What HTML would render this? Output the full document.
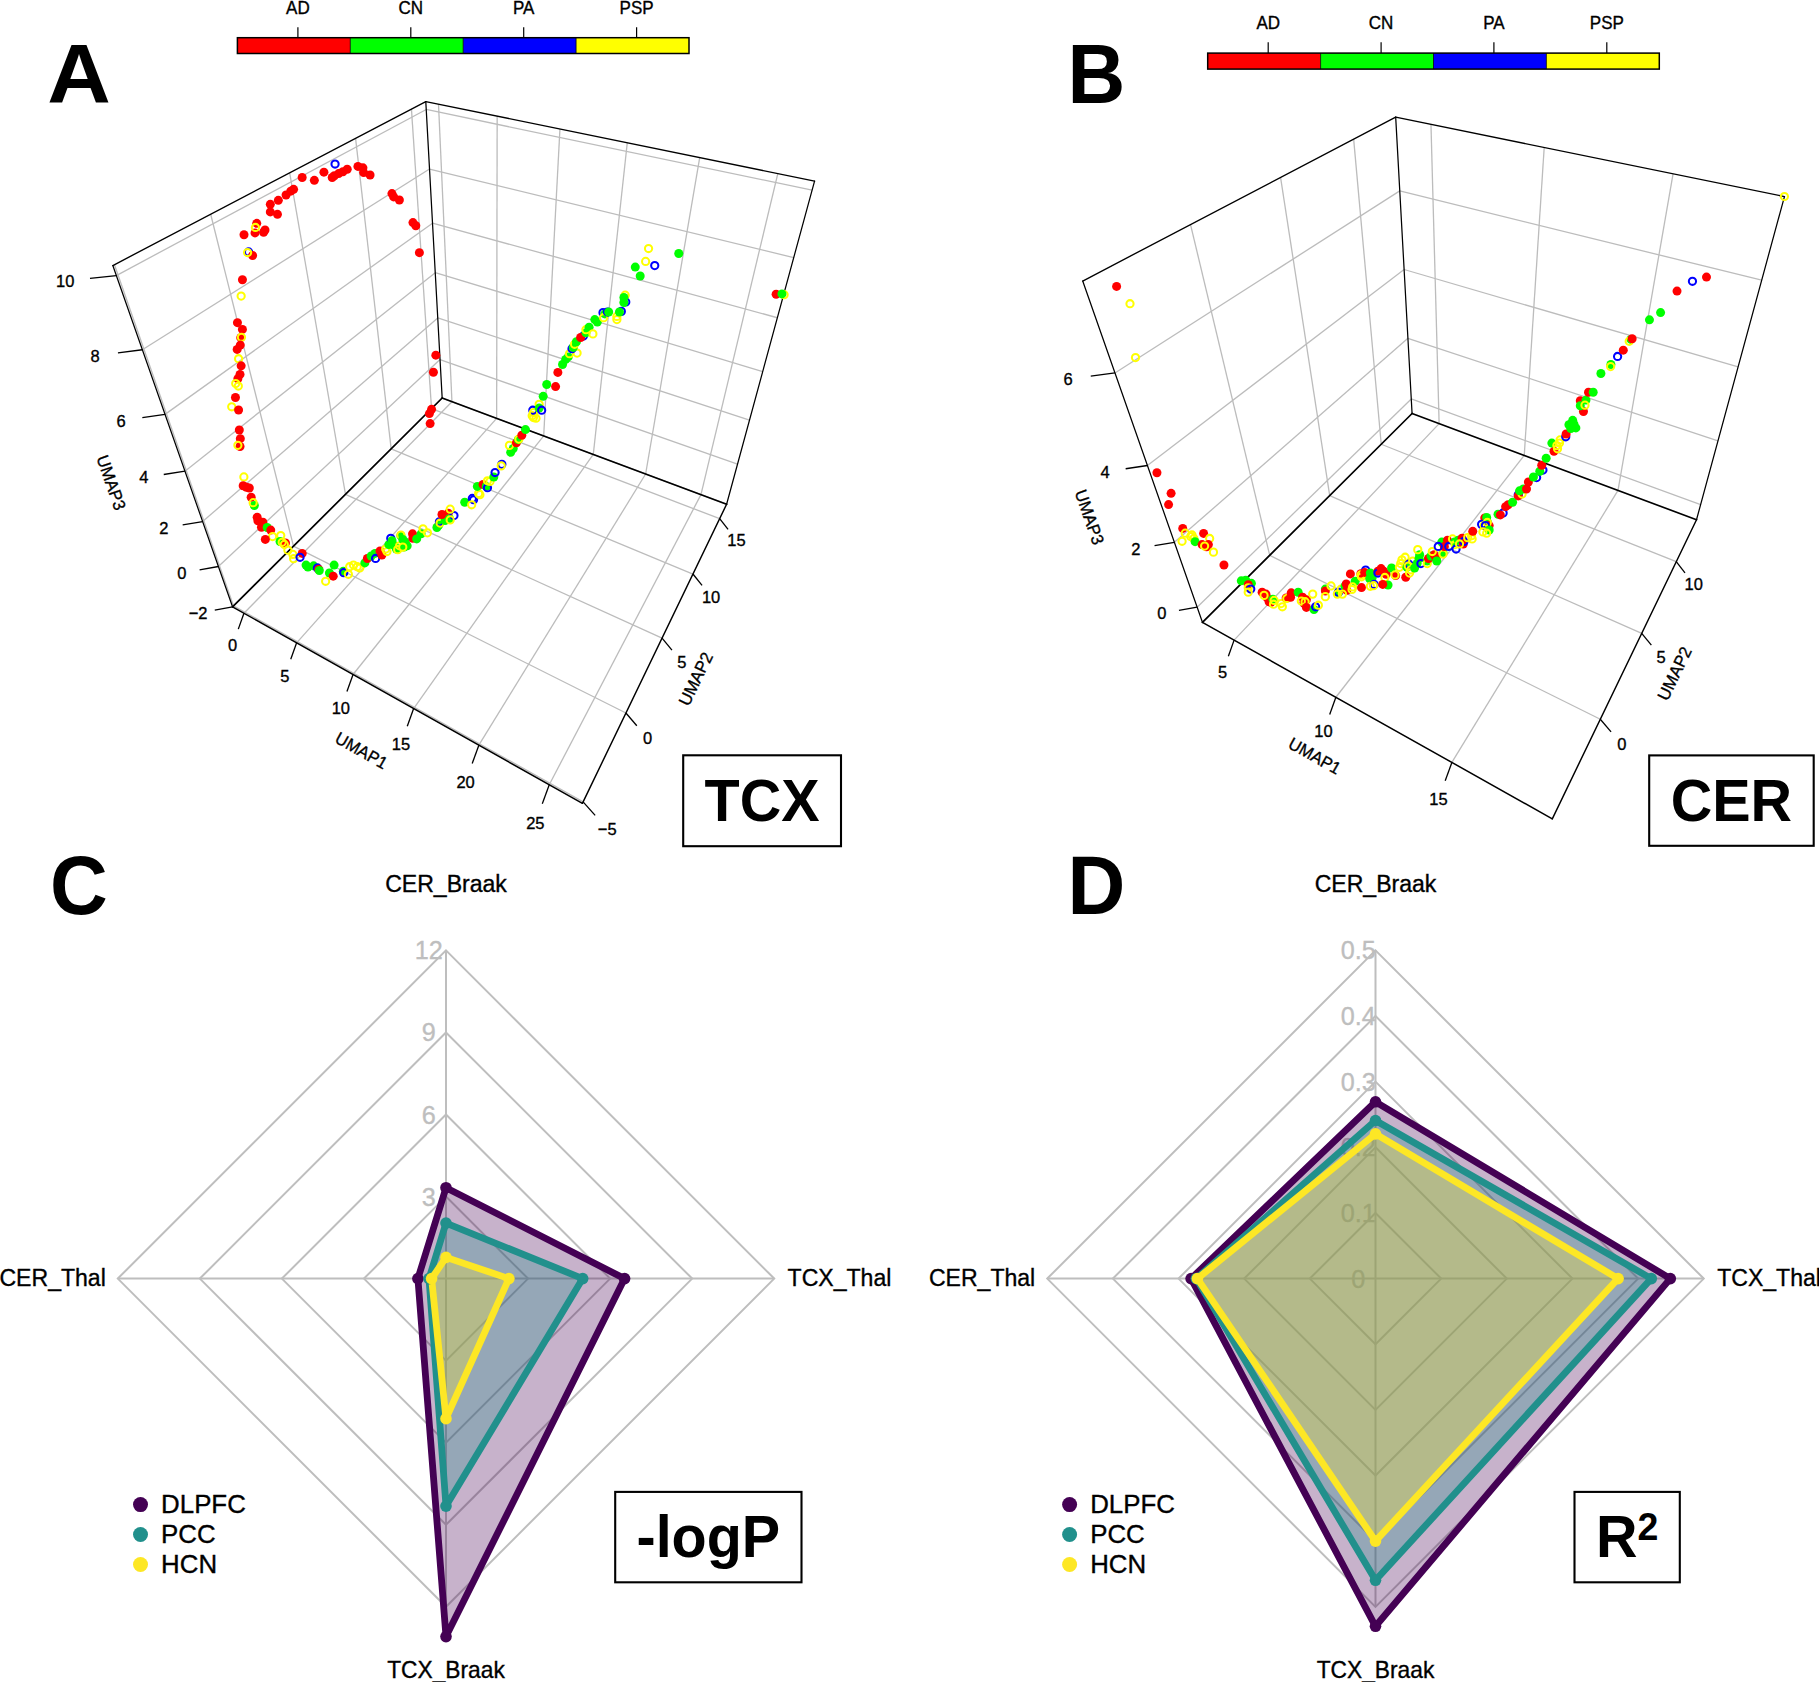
<!DOCTYPE html>
<html lang="en"><head><meta charset="utf-8"><title>Figure</title><style>html,body{margin:0;padding:0;background:#fff}svg{display:block}</style></head><body>
<svg width="1819" height="1682" viewBox="0 0 1819 1682" style="display:block">
<rect width="1819" height="1682" fill="#fff"/>
<g fill="none" stroke-linejoin="miter">
<polygon points="446,1196.55 528.05,1278.6 446,1360.65 363.95,1278.6" stroke="#bebebe" stroke-width="2"/>
<polygon points="446,1114.5 610.1,1278.6 446,1442.7 281.9,1278.6" stroke="#bebebe" stroke-width="2"/>
<polygon points="446,1032.45 692.15,1278.6 446,1524.75 199.85,1278.6" stroke="#bebebe" stroke-width="2"/>
<polygon points="446,950.4 774.2,1278.6 446,1606.8 117.8,1278.6" stroke="#bebebe" stroke-width="2"/>
<line x1="117.8" y1="1278.6" x2="774.2" y2="1278.6" stroke="#bebebe" stroke-width="2" />
<line x1="446" y1="950.4" x2="446" y2="1606.8" stroke="#bebebe" stroke-width="2" />
</g>
<text transform="translate(428.8 959.42) scale(0.9615 1)" font-size="26.21" text-anchor="middle" font-weight="normal" fill="#bebebe" stroke="#bebebe" stroke-width="0.35" font-family="Liberation Sans, Arial, Helvetica, sans-serif" >12</text>
<text transform="translate(428.8 1041.47) scale(0.9615 1)" font-size="26.21" text-anchor="middle" font-weight="normal" fill="#bebebe" stroke="#bebebe" stroke-width="0.35" font-family="Liberation Sans, Arial, Helvetica, sans-serif" >9</text>
<text transform="translate(428.8 1123.52) scale(0.9615 1)" font-size="26.21" text-anchor="middle" font-weight="normal" fill="#bebebe" stroke="#bebebe" stroke-width="0.35" font-family="Liberation Sans, Arial, Helvetica, sans-serif" >6</text>
<text transform="translate(428.8 1205.57) scale(0.9615 1)" font-size="26.21" text-anchor="middle" font-weight="normal" fill="#bebebe" stroke="#bebebe" stroke-width="0.35" font-family="Liberation Sans, Arial, Helvetica, sans-serif" >3</text>
<polygon points="446,1187.7 624.6,1278.6 446,1636.6 417.9,1278.6" fill="#440154" fill-opacity="0.3" stroke="none"/>
<polygon points="446,1223.1 582.7,1278.6 446,1506.1 429,1278.6" fill="#21908c" fill-opacity="0.3" stroke="none"/>
<polygon points="446,1257.4 508.9,1278.6 446,1418.7 431.6,1278.6" fill="#fde725" fill-opacity="0.3" stroke="none"/>
<polygon points="446,1187.7 624.6,1278.6 446,1636.6 417.9,1278.6" fill="none" stroke="#440154" stroke-width="6.8" stroke-linejoin="round"/>
<polygon points="446,1223.1 582.7,1278.6 446,1506.1 429,1278.6" fill="none" stroke="#21908c" stroke-width="6.8" stroke-linejoin="round"/>
<polygon points="446,1257.4 508.9,1278.6 446,1418.7 431.6,1278.6" fill="none" stroke="#fde725" stroke-width="6.8" stroke-linejoin="round"/>
<circle cx="446" cy="1187.7" r="5.8" fill="#440154"/>
<circle cx="624.6" cy="1278.6" r="5.8" fill="#440154"/>
<circle cx="446" cy="1636.6" r="5.8" fill="#440154"/>
<circle cx="417.9" cy="1278.6" r="5.8" fill="#440154"/>
<circle cx="446" cy="1223.1" r="5.8" fill="#21908c"/>
<circle cx="582.7" cy="1278.6" r="5.8" fill="#21908c"/>
<circle cx="446" cy="1506.1" r="5.8" fill="#21908c"/>
<circle cx="429" cy="1278.6" r="5.8" fill="#21908c"/>
<circle cx="446" cy="1257.4" r="5.8" fill="#fde725"/>
<circle cx="508.9" cy="1278.6" r="5.8" fill="#fde725"/>
<circle cx="446" cy="1418.7" r="5.8" fill="#fde725"/>
<circle cx="431.6" cy="1278.6" r="5.8" fill="#fde725"/>
<text transform="translate(446 891.8) scale(0.9856 1)" font-size="23.4" text-anchor="middle" font-weight="normal" fill="#000" stroke="#000" stroke-width="0.35" font-family="Liberation Sans, Arial, Helvetica, sans-serif" >CER_Braak</text>
<text transform="translate(446 1678.3) scale(0.9731 1)" font-size="23.4" text-anchor="middle" font-weight="normal" fill="#000" stroke="#000" stroke-width="0.35" font-family="Liberation Sans, Arial, Helvetica, sans-serif" >TCX_Braak</text>
<text transform="translate(105.8 1286.2) scale(0.9856 1)" font-size="23.4" text-anchor="end" font-weight="normal" fill="#000" stroke="#000" stroke-width="0.35" font-family="Liberation Sans, Arial, Helvetica, sans-serif" >CER_Thal</text>
<text transform="translate(787.6 1286.2) scale(0.9856 1)" font-size="23.4" text-anchor="start" font-weight="normal" fill="#000" stroke="#000" stroke-width="0.35" font-family="Liberation Sans, Arial, Helvetica, sans-serif" >TCX_Thal</text>
<circle cx="140.5" cy="1504.6" r="7.5" fill="#440154"/>
<text transform="translate(161.1 1513.4) scale(1.0144 1)" font-size="25.48" text-anchor="start" font-weight="normal" fill="#000" stroke="#000" stroke-width="0.35" font-family="Liberation Sans, Arial, Helvetica, sans-serif" >DLPFC</text>
<circle cx="140.5" cy="1534.55" r="7.5" fill="#21908c"/>
<text transform="translate(161.1 1543.35) scale(1.0144 1)" font-size="25.48" text-anchor="start" font-weight="normal" fill="#000" stroke="#000" stroke-width="0.35" font-family="Liberation Sans, Arial, Helvetica, sans-serif" >PCC</text>
<circle cx="140.5" cy="1564.5" r="7.5" fill="#fde725"/>
<text transform="translate(161.1 1573.3) scale(1.0144 1)" font-size="25.48" text-anchor="start" font-weight="normal" fill="#000" stroke="#000" stroke-width="0.35" font-family="Liberation Sans, Arial, Helvetica, sans-serif" >HCN</text>
<g fill="none" stroke-linejoin="miter">
<polygon points="1375.5,1212.95 1441.15,1278.6 1375.5,1344.25 1309.85,1278.6" stroke="#bebebe" stroke-width="2"/>
<polygon points="1375.5,1147.3 1506.8,1278.6 1375.5,1409.9 1244.2,1278.6" stroke="#bebebe" stroke-width="2"/>
<polygon points="1375.5,1081.65 1572.45,1278.6 1375.5,1475.55 1178.55,1278.6" stroke="#bebebe" stroke-width="2"/>
<polygon points="1375.5,1016 1638.1,1278.6 1375.5,1541.2 1112.9,1278.6" stroke="#bebebe" stroke-width="2"/>
<polygon points="1375.5,950.35 1703.75,1278.6 1375.5,1606.85 1047.25,1278.6" stroke="#bebebe" stroke-width="2"/>
<line x1="1047.25" y1="1278.6" x2="1703.75" y2="1278.6" stroke="#bebebe" stroke-width="2" />
<line x1="1375.5" y1="950.35" x2="1375.5" y2="1606.85" stroke="#bebebe" stroke-width="2" />
</g>
<text transform="translate(1358.3 959.37) scale(0.9615 1)" font-size="26.21" text-anchor="middle" font-weight="normal" fill="#bebebe" stroke="#bebebe" stroke-width="0.35" font-family="Liberation Sans, Arial, Helvetica, sans-serif" >0.5</text>
<text transform="translate(1358.3 1025.02) scale(0.9615 1)" font-size="26.21" text-anchor="middle" font-weight="normal" fill="#bebebe" stroke="#bebebe" stroke-width="0.35" font-family="Liberation Sans, Arial, Helvetica, sans-serif" >0.4</text>
<text transform="translate(1358.3 1090.67) scale(0.9615 1)" font-size="26.21" text-anchor="middle" font-weight="normal" fill="#bebebe" stroke="#bebebe" stroke-width="0.35" font-family="Liberation Sans, Arial, Helvetica, sans-serif" >0.3</text>
<text transform="translate(1358.3 1156.32) scale(0.9615 1)" font-size="26.21" text-anchor="middle" font-weight="normal" fill="#bebebe" stroke="#bebebe" stroke-width="0.35" font-family="Liberation Sans, Arial, Helvetica, sans-serif" >0.2</text>
<text transform="translate(1358.3 1221.97) scale(0.9615 1)" font-size="26.21" text-anchor="middle" font-weight="normal" fill="#bebebe" stroke="#bebebe" stroke-width="0.35" font-family="Liberation Sans, Arial, Helvetica, sans-serif" >0.1</text>
<text transform="translate(1358.3 1287.62) scale(0.9615 1)" font-size="26.21" text-anchor="middle" font-weight="normal" fill="#bebebe" stroke="#bebebe" stroke-width="0.35" font-family="Liberation Sans, Arial, Helvetica, sans-serif" >0</text>
<polygon points="1375.5,1101.8 1670.3,1278.6 1375.5,1626.3 1191.1,1278.6" fill="#440154" fill-opacity="0.3" stroke="none"/>
<polygon points="1375.5,1120.5 1651.3,1278.6 1375.5,1580.3 1196.3,1278.6" fill="#21908c" fill-opacity="0.3" stroke="none"/>
<polygon points="1375.5,1133.9 1618.1,1278.6 1375.5,1541.1 1197.4,1278.6" fill="#fde725" fill-opacity="0.3" stroke="none"/>
<polygon points="1375.5,1101.8 1670.3,1278.6 1375.5,1626.3 1191.1,1278.6" fill="none" stroke="#440154" stroke-width="6.8" stroke-linejoin="round"/>
<polygon points="1375.5,1120.5 1651.3,1278.6 1375.5,1580.3 1196.3,1278.6" fill="none" stroke="#21908c" stroke-width="6.8" stroke-linejoin="round"/>
<polygon points="1375.5,1133.9 1618.1,1278.6 1375.5,1541.1 1197.4,1278.6" fill="none" stroke="#fde725" stroke-width="6.8" stroke-linejoin="round"/>
<circle cx="1375.5" cy="1101.8" r="5.8" fill="#440154"/>
<circle cx="1670.3" cy="1278.6" r="5.8" fill="#440154"/>
<circle cx="1375.5" cy="1626.3" r="5.8" fill="#440154"/>
<circle cx="1191.1" cy="1278.6" r="5.8" fill="#440154"/>
<circle cx="1375.5" cy="1120.5" r="5.8" fill="#21908c"/>
<circle cx="1651.3" cy="1278.6" r="5.8" fill="#21908c"/>
<circle cx="1375.5" cy="1580.3" r="5.8" fill="#21908c"/>
<circle cx="1196.3" cy="1278.6" r="5.8" fill="#21908c"/>
<circle cx="1375.5" cy="1133.9" r="5.8" fill="#fde725"/>
<circle cx="1618.1" cy="1278.6" r="5.8" fill="#fde725"/>
<circle cx="1375.5" cy="1541.1" r="5.8" fill="#fde725"/>
<circle cx="1197.4" cy="1278.6" r="5.8" fill="#fde725"/>
<text transform="translate(1375.5 891.8) scale(0.9856 1)" font-size="23.4" text-anchor="middle" font-weight="normal" fill="#000" stroke="#000" stroke-width="0.35" font-family="Liberation Sans, Arial, Helvetica, sans-serif" >CER_Braak</text>
<text transform="translate(1375.5 1678.3) scale(0.9731 1)" font-size="23.4" text-anchor="middle" font-weight="normal" fill="#000" stroke="#000" stroke-width="0.35" font-family="Liberation Sans, Arial, Helvetica, sans-serif" >TCX_Braak</text>
<text transform="translate(1035.25 1286.2) scale(0.9856 1)" font-size="23.4" text-anchor="end" font-weight="normal" fill="#000" stroke="#000" stroke-width="0.35" font-family="Liberation Sans, Arial, Helvetica, sans-serif" >CER_Thal</text>
<text transform="translate(1717.15 1286.2) scale(0.9856 1)" font-size="23.4" text-anchor="start" font-weight="normal" fill="#000" stroke="#000" stroke-width="0.35" font-family="Liberation Sans, Arial, Helvetica, sans-serif" >TCX_Thal</text>
<circle cx="1069.6" cy="1504.6" r="7.5" fill="#440154"/>
<text transform="translate(1090.2 1513.4) scale(1.0144 1)" font-size="25.48" text-anchor="start" font-weight="normal" fill="#000" stroke="#000" stroke-width="0.35" font-family="Liberation Sans, Arial, Helvetica, sans-serif" >DLPFC</text>
<circle cx="1069.6" cy="1534.55" r="7.5" fill="#21908c"/>
<text transform="translate(1090.2 1543.35) scale(1.0144 1)" font-size="25.48" text-anchor="start" font-weight="normal" fill="#000" stroke="#000" stroke-width="0.35" font-family="Liberation Sans, Arial, Helvetica, sans-serif" >PCC</text>
<circle cx="1069.6" cy="1564.5" r="7.5" fill="#fde725"/>
<text transform="translate(1090.2 1573.3) scale(1.0144 1)" font-size="25.48" text-anchor="start" font-weight="normal" fill="#000" stroke="#000" stroke-width="0.35" font-family="Liberation Sans, Arial, Helvetica, sans-serif" >HCN</text>
<g stroke-linecap="butt" fill="none">
<line x1="451.95" y1="401.67" x2="438.5" y2="104.2" stroke="#bcbcbc" stroke-width="1.3" />
<line x1="243.95" y1="613.23" x2="451.95" y2="401.67" stroke="#bcbcbc" stroke-width="1.3" />
<line x1="496.64" y1="418.36" x2="497.16" y2="116.19" stroke="#bcbcbc" stroke-width="1.3" />
<line x1="296.63" y1="642.82" x2="496.64" y2="418.36" stroke="#bcbcbc" stroke-width="1.3" />
<line x1="543.69" y1="435.93" x2="559.94" y2="129.02" stroke="#bcbcbc" stroke-width="1.3" />
<line x1="353.06" y1="674.52" x2="543.69" y2="435.93" stroke="#bcbcbc" stroke-width="1.3" />
<line x1="593.28" y1="454.45" x2="627.28" y2="142.78" stroke="#bcbcbc" stroke-width="1.3" />
<line x1="413.64" y1="708.54" x2="593.28" y2="454.45" stroke="#bcbcbc" stroke-width="1.3" />
<line x1="645.63" y1="473.99" x2="699.71" y2="157.59" stroke="#bcbcbc" stroke-width="1.3" />
<line x1="478.85" y1="745.17" x2="645.63" y2="473.99" stroke="#bcbcbc" stroke-width="1.3" />
<line x1="700.96" y1="494.65" x2="777.81" y2="173.55" stroke="#bcbcbc" stroke-width="1.3" />
<line x1="549.25" y1="784.71" x2="700.96" y2="494.65" stroke="#bcbcbc" stroke-width="1.3" />
<line x1="233.51" y1="605.86" x2="114.43" y2="264.68" stroke="#bcbcbc" stroke-width="1.3" />
<line x1="233.51" y1="605.86" x2="583.1" y2="801.87" stroke="#bcbcbc" stroke-width="1.3" />
<line x1="293.43" y1="546.17" x2="210.71" y2="214.25" stroke="#bcbcbc" stroke-width="1.3" />
<line x1="293.43" y1="546.17" x2="625.93" y2="713.04" stroke="#bcbcbc" stroke-width="1.3" />
<line x1="345.5" y1="494.31" x2="289.67" y2="172.9" stroke="#bcbcbc" stroke-width="1.3" />
<line x1="345.5" y1="494.31" x2="662.06" y2="638.1" stroke="#bcbcbc" stroke-width="1.3" />
<line x1="391.16" y1="448.83" x2="355.58" y2="138.37" stroke="#bcbcbc" stroke-width="1.3" />
<line x1="391.16" y1="448.83" x2="692.95" y2="574.03" stroke="#bcbcbc" stroke-width="1.3" />
<line x1="431.53" y1="408.61" x2="411.44" y2="109.12" stroke="#bcbcbc" stroke-width="1.3" />
<line x1="431.53" y1="408.61" x2="719.66" y2="518.63" stroke="#bcbcbc" stroke-width="1.3" />
<line x1="232.54" y1="606.82" x2="442.17" y2="398.02" stroke="#bcbcbc" stroke-width="1.3" />
<line x1="442.17" y1="398.02" x2="726.61" y2="504.23" stroke="#bcbcbc" stroke-width="1.3" />
<line x1="218.39" y1="566.49" x2="440.04" y2="359.59" stroke="#bcbcbc" stroke-width="1.3" />
<line x1="440.04" y1="359.59" x2="737.5" y2="464.19" stroke="#bcbcbc" stroke-width="1.3" />
<line x1="202.63" y1="521.57" x2="437.74" y2="317.94" stroke="#bcbcbc" stroke-width="1.3" />
<line x1="437.74" y1="317.94" x2="749.47" y2="420.2" stroke="#bcbcbc" stroke-width="1.3" />
<line x1="184.97" y1="471.22" x2="435.24" y2="272.65" stroke="#bcbcbc" stroke-width="1.3" />
<line x1="435.24" y1="272.65" x2="762.69" y2="371.64" stroke="#bcbcbc" stroke-width="1.3" />
<line x1="165.04" y1="414.39" x2="432.51" y2="223.22" stroke="#bcbcbc" stroke-width="1.3" />
<line x1="432.51" y1="223.22" x2="777.36" y2="317.75" stroke="#bcbcbc" stroke-width="1.3" />
<line x1="142.36" y1="349.75" x2="429.52" y2="169.07" stroke="#bcbcbc" stroke-width="1.3" />
<line x1="429.52" y1="169.07" x2="793.72" y2="257.62" stroke="#bcbcbc" stroke-width="1.3" />
<line x1="116.34" y1="275.58" x2="426.23" y2="109.47" stroke="#bcbcbc" stroke-width="1.3" />
<line x1="426.23" y1="109.47" x2="812.1" y2="190.09" stroke="#bcbcbc" stroke-width="1.3" />
<line x1="112.82" y1="265.53" x2="425.79" y2="101.6" stroke="#000" stroke-width="1.35" stroke-linecap="round"/>
<line x1="425.79" y1="101.6" x2="814.56" y2="181.06" stroke="#000" stroke-width="1.35" stroke-linecap="round"/>
<line x1="232.54" y1="606.82" x2="112.82" y2="265.53" stroke="#000" stroke-width="1.25" stroke-linecap="round"/>
<line x1="442.17" y1="398.02" x2="425.79" y2="101.6" stroke="#000" stroke-width="1.25" stroke-linecap="round"/>
<line x1="726.61" y1="504.23" x2="814.56" y2="181.06" stroke="#000" stroke-width="1.25" stroke-linecap="round"/>
<line x1="232.54" y1="606.82" x2="442.17" y2="398.02" stroke="#000" stroke-width="1.7" stroke-linecap="round"/>
<line x1="442.17" y1="398.02" x2="726.61" y2="504.23" stroke="#000" stroke-width="1.65" stroke-linecap="round"/>
<line x1="232.54" y1="606.82" x2="582.4" y2="803.33" stroke="#000" stroke-width="1.5" stroke-linecap="round"/>
<line x1="582.4" y1="803.33" x2="726.61" y2="504.23" stroke="#000" stroke-width="1.45" stroke-linecap="round"/>
<line x1="232.54" y1="606.82" x2="214.76" y2="610.12" stroke="#000" stroke-width="1.3" />
<text transform="translate(198.04 619.13) scale(0.9615 1)" font-size="17.16" text-anchor="middle" font-weight="normal" fill="#000" stroke="#000" stroke-width="0.35" font-family="Liberation Sans, Arial, Helvetica, sans-serif" >−2</text>
<line x1="218.39" y1="566.49" x2="199.59" y2="569.8" stroke="#000" stroke-width="1.3" />
<text transform="translate(181.91 578.82) scale(0.9615 1)" font-size="17.16" text-anchor="middle" font-weight="normal" fill="#000" stroke="#000" stroke-width="0.35" font-family="Liberation Sans, Arial, Helvetica, sans-serif" >0</text>
<line x1="202.63" y1="521.57" x2="182.68" y2="524.87" stroke="#000" stroke-width="1.3" />
<text transform="translate(163.93 533.89) scale(0.9615 1)" font-size="17.16" text-anchor="middle" font-weight="normal" fill="#000" stroke="#000" stroke-width="0.35" font-family="Liberation Sans, Arial, Helvetica, sans-serif" >2</text>
<line x1="184.97" y1="471.22" x2="163.73" y2="474.49" stroke="#000" stroke-width="1.3" />
<text transform="translate(143.76 483.47) scale(0.9615 1)" font-size="17.16" text-anchor="middle" font-weight="normal" fill="#000" stroke="#000" stroke-width="0.35" font-family="Liberation Sans, Arial, Helvetica, sans-serif" >4</text>
<line x1="165.04" y1="414.39" x2="142.32" y2="417.59" stroke="#000" stroke-width="1.3" />
<text transform="translate(120.97 426.51) scale(0.9615 1)" font-size="17.16" text-anchor="middle" font-weight="normal" fill="#000" stroke="#000" stroke-width="0.35" font-family="Liberation Sans, Arial, Helvetica, sans-serif" >6</text>
<line x1="142.36" y1="349.75" x2="117.96" y2="352.84" stroke="#000" stroke-width="1.3" />
<text transform="translate(95.02 361.65) scale(0.9615 1)" font-size="17.16" text-anchor="middle" font-weight="normal" fill="#000" stroke="#000" stroke-width="0.35" font-family="Liberation Sans, Arial, Helvetica, sans-serif" >8</text>
<line x1="116.34" y1="275.58" x2="89.98" y2="278.47" stroke="#000" stroke-width="1.3" />
<text transform="translate(65.21 287.1) scale(0.9615 1)" font-size="17.16" text-anchor="middle" font-weight="normal" fill="#000" stroke="#000" stroke-width="0.35" font-family="Liberation Sans, Arial, Helvetica, sans-serif" >10</text>
<line x1="243.95" y1="613.23" x2="238.29" y2="629.15" stroke="#000" stroke-width="1.3" />
<text transform="translate(232.62 650.98) scale(0.9615 1)" font-size="17.16" text-anchor="middle" font-weight="normal" fill="#000" stroke="#000" stroke-width="0.35" font-family="Liberation Sans, Arial, Helvetica, sans-serif" >0</text>
<line x1="296.63" y1="642.82" x2="290.75" y2="659.28" stroke="#000" stroke-width="1.3" />
<text transform="translate(284.87 681.64) scale(0.9615 1)" font-size="17.16" text-anchor="middle" font-weight="normal" fill="#000" stroke="#000" stroke-width="0.35" font-family="Liberation Sans, Arial, Helvetica, sans-serif" >5</text>
<line x1="353.06" y1="674.52" x2="346.94" y2="691.54" stroke="#000" stroke-width="1.3" />
<text transform="translate(340.82 714.47) scale(0.9615 1)" font-size="17.16" text-anchor="middle" font-weight="normal" fill="#000" stroke="#000" stroke-width="0.35" font-family="Liberation Sans, Arial, Helvetica, sans-serif" >10</text>
<line x1="413.64" y1="708.54" x2="407.27" y2="726.18" stroke="#000" stroke-width="1.3" />
<text transform="translate(400.89 749.72) scale(0.9615 1)" font-size="17.16" text-anchor="middle" font-weight="normal" fill="#000" stroke="#000" stroke-width="0.35" font-family="Liberation Sans, Arial, Helvetica, sans-serif" >15</text>
<line x1="478.85" y1="745.17" x2="472.2" y2="763.46" stroke="#000" stroke-width="1.3" />
<text transform="translate(465.55 787.65) scale(0.9615 1)" font-size="17.16" text-anchor="middle" font-weight="normal" fill="#000" stroke="#000" stroke-width="0.35" font-family="Liberation Sans, Arial, Helvetica, sans-serif" >20</text>
<line x1="549.25" y1="784.71" x2="542.3" y2="803.71" stroke="#000" stroke-width="1.3" />
<text transform="translate(535.35 828.61) scale(0.9615 1)" font-size="17.16" text-anchor="middle" font-weight="normal" fill="#000" stroke="#000" stroke-width="0.35" font-family="Liberation Sans, Arial, Helvetica, sans-serif" >25</text>
<line x1="583.1" y1="801.87" x2="595.16" y2="815.39" stroke="#000" stroke-width="1.3" />
<text transform="translate(607.23 834.83) scale(0.9615 1)" font-size="17.16" text-anchor="middle" font-weight="normal" fill="#000" stroke="#000" stroke-width="0.35" font-family="Liberation Sans, Arial, Helvetica, sans-serif" >−5</text>
<line x1="625.93" y1="713.04" x2="636.81" y2="725.77" stroke="#000" stroke-width="1.3" />
<text transform="translate(647.68 744.4) scale(0.9615 1)" font-size="17.16" text-anchor="middle" font-weight="normal" fill="#000" stroke="#000" stroke-width="0.35" font-family="Liberation Sans, Arial, Helvetica, sans-serif" >0</text>
<line x1="662.06" y1="638.1" x2="671.96" y2="650.11" stroke="#000" stroke-width="1.3" />
<text transform="translate(681.86 668.02) scale(0.9615 1)" font-size="17.16" text-anchor="middle" font-weight="normal" fill="#000" stroke="#000" stroke-width="0.35" font-family="Liberation Sans, Arial, Helvetica, sans-serif" >5</text>
<line x1="692.95" y1="574.03" x2="702.03" y2="585.39" stroke="#000" stroke-width="1.3" />
<text transform="translate(711.11 602.65) scale(0.9615 1)" font-size="17.16" text-anchor="middle" font-weight="normal" fill="#000" stroke="#000" stroke-width="0.35" font-family="Liberation Sans, Arial, Helvetica, sans-serif" >10</text>
<line x1="719.66" y1="518.63" x2="728.05" y2="529.39" stroke="#000" stroke-width="1.3" />
<text transform="translate(736.43 546.06) scale(0.9615 1)" font-size="17.16" text-anchor="middle" font-weight="normal" fill="#000" stroke="#000" stroke-width="0.35" font-family="Liberation Sans, Arial, Helvetica, sans-serif" >15</text>
</g>
<text transform="translate(105.71 484.52) rotate(70.7) scale(0.9615 1)" font-size="17.16" text-anchor="middle" font-weight="normal" fill="#000" stroke="#000" stroke-width="0.35" font-family="Liberation Sans, Arial, Helvetica, sans-serif" >UMAP3</text>
<text transform="translate(358.52 755.72) rotate(29.3) scale(0.9615 1)" font-size="17.16" text-anchor="middle" font-weight="normal" fill="#000" stroke="#000" stroke-width="0.35" font-family="Liberation Sans, Arial, Helvetica, sans-serif" >UMAP1</text>
<text transform="translate(701.04 681.49) rotate(-64.3) scale(0.9615 1)" font-size="17.16" text-anchor="middle" font-weight="normal" fill="#000" stroke="#000" stroke-width="0.35" font-family="Liberation Sans, Arial, Helvetica, sans-serif" >UMAP2</text>
<g stroke-linecap="butt" fill="none">
<line x1="1439.12" y1="423.62" x2="1430.96" y2="124.31" stroke="#bcbcbc" stroke-width="1.3" />
<line x1="1234.1" y1="640.11" x2="1439.12" y2="423.62" stroke="#bcbcbc" stroke-width="1.3" />
<line x1="1524.24" y1="455.41" x2="1544.19" y2="147.45" stroke="#bcbcbc" stroke-width="1.3" />
<line x1="1335.87" y1="697.27" x2="1524.24" y2="455.41" stroke="#bcbcbc" stroke-width="1.3" />
<line x1="1618" y1="490.42" x2="1673.06" y2="173.79" stroke="#bcbcbc" stroke-width="1.3" />
<line x1="1451.87" y1="762.42" x2="1618" y2="490.42" stroke="#bcbcbc" stroke-width="1.3" />
<line x1="1269.72" y1="555.3" x2="1190.53" y2="224.56" stroke="#bcbcbc" stroke-width="1.3" />
<line x1="1269.72" y1="555.3" x2="1600.32" y2="719.23" stroke="#bcbcbc" stroke-width="1.3" />
<line x1="1329.72" y1="495.55" x2="1280.56" y2="177.4" stroke="#bcbcbc" stroke-width="1.3" />
<line x1="1329.72" y1="495.55" x2="1641.73" y2="633.35" stroke="#bcbcbc" stroke-width="1.3" />
<line x1="1381.23" y1="444.24" x2="1353.65" y2="139.12" stroke="#bcbcbc" stroke-width="1.3" />
<line x1="1381.23" y1="444.24" x2="1676.26" y2="561.72" stroke="#bcbcbc" stroke-width="1.3" />
<line x1="1197.12" y1="607.16" x2="1411.26" y2="398.95" stroke="#bcbcbc" stroke-width="1.3" />
<line x1="1411.26" y1="398.95" x2="1700.62" y2="504.62" stroke="#bcbcbc" stroke-width="1.3" />
<line x1="1174.39" y1="542.35" x2="1407.91" y2="338.27" stroke="#bcbcbc" stroke-width="1.3" />
<line x1="1407.91" y1="338.27" x2="1717.98" y2="440.84" stroke="#bcbcbc" stroke-width="1.3" />
<line x1="1147.43" y1="465.51" x2="1404.11" y2="269.5" stroke="#bcbcbc" stroke-width="1.3" />
<line x1="1404.11" y1="269.5" x2="1738.09" y2="366.92" stroke="#bcbcbc" stroke-width="1.3" />
<line x1="1114.96" y1="372.95" x2="1399.77" y2="190.91" stroke="#bcbcbc" stroke-width="1.3" />
<line x1="1399.77" y1="190.91" x2="1761.69" y2="280.23" stroke="#bcbcbc" stroke-width="1.3" />
<line x1="1082.72" y1="281.03" x2="1395.69" y2="117.1" stroke="#000" stroke-width="1.35" stroke-linecap="round"/>
<line x1="1395.69" y1="117.1" x2="1784.46" y2="196.56" stroke="#000" stroke-width="1.35" stroke-linecap="round"/>
<line x1="1202.44" y1="622.32" x2="1082.72" y2="281.03" stroke="#000" stroke-width="1.25" stroke-linecap="round"/>
<line x1="1412.07" y1="413.52" x2="1395.69" y2="117.1" stroke="#000" stroke-width="1.25" stroke-linecap="round"/>
<line x1="1696.51" y1="519.73" x2="1784.46" y2="196.56" stroke="#000" stroke-width="1.25" stroke-linecap="round"/>
<line x1="1202.44" y1="622.32" x2="1412.07" y2="413.52" stroke="#000" stroke-width="1.7" stroke-linecap="round"/>
<line x1="1412.07" y1="413.52" x2="1696.51" y2="519.73" stroke="#000" stroke-width="1.65" stroke-linecap="round"/>
<line x1="1202.44" y1="622.32" x2="1552.3" y2="818.83" stroke="#000" stroke-width="1.5" stroke-linecap="round"/>
<line x1="1552.3" y1="818.83" x2="1696.51" y2="519.73" stroke="#000" stroke-width="1.45" stroke-linecap="round"/>
<line x1="1197.12" y1="607.16" x2="1178.95" y2="610.47" stroke="#000" stroke-width="1.3" />
<text transform="translate(1161.88 619.48) scale(0.9615 1)" font-size="17.16" text-anchor="middle" font-weight="normal" fill="#000" stroke="#000" stroke-width="0.35" font-family="Liberation Sans, Arial, Helvetica, sans-serif" >0</text>
<line x1="1174.39" y1="542.35" x2="1154.57" y2="545.65" stroke="#000" stroke-width="1.3" />
<text transform="translate(1135.94 554.67) scale(0.9615 1)" font-size="17.16" text-anchor="middle" font-weight="normal" fill="#000" stroke="#000" stroke-width="0.35" font-family="Liberation Sans, Arial, Helvetica, sans-serif" >2</text>
<line x1="1147.43" y1="465.51" x2="1125.64" y2="468.76" stroke="#000" stroke-width="1.3" />
<text transform="translate(1105.16 477.72) scale(0.9615 1)" font-size="17.16" text-anchor="middle" font-weight="normal" fill="#000" stroke="#000" stroke-width="0.35" font-family="Liberation Sans, Arial, Helvetica, sans-serif" >4</text>
<line x1="1114.96" y1="372.95" x2="1090.76" y2="376.06" stroke="#000" stroke-width="1.3" />
<text transform="translate(1068.02 384.88) scale(0.9615 1)" font-size="17.16" text-anchor="middle" font-weight="normal" fill="#000" stroke="#000" stroke-width="0.35" font-family="Liberation Sans, Arial, Helvetica, sans-serif" >6</text>
<line x1="1234.1" y1="640.11" x2="1228.36" y2="656.23" stroke="#000" stroke-width="1.3" />
<text transform="translate(1222.61 678.27) scale(0.9615 1)" font-size="17.16" text-anchor="middle" font-weight="normal" fill="#000" stroke="#000" stroke-width="0.35" font-family="Liberation Sans, Arial, Helvetica, sans-serif" >5</text>
<line x1="1335.87" y1="697.27" x2="1329.69" y2="714.42" stroke="#000" stroke-width="1.3" />
<text transform="translate(1323.52 737.48) scale(0.9615 1)" font-size="17.16" text-anchor="middle" font-weight="normal" fill="#000" stroke="#000" stroke-width="0.35" font-family="Liberation Sans, Arial, Helvetica, sans-serif" >10</text>
<line x1="1451.87" y1="762.42" x2="1445.2" y2="780.74" stroke="#000" stroke-width="1.3" />
<text transform="translate(1438.54 804.97) scale(0.9615 1)" font-size="17.16" text-anchor="middle" font-weight="normal" fill="#000" stroke="#000" stroke-width="0.35" font-family="Liberation Sans, Arial, Helvetica, sans-serif" >15</text>
<line x1="1600.32" y1="719.23" x2="1611.07" y2="731.87" stroke="#000" stroke-width="1.3" />
<text transform="translate(1621.83 750.42) scale(0.9615 1)" font-size="17.16" text-anchor="middle" font-weight="normal" fill="#000" stroke="#000" stroke-width="0.35" font-family="Liberation Sans, Arial, Helvetica, sans-serif" >0</text>
<line x1="1641.73" y1="633.35" x2="1651.36" y2="645.15" stroke="#000" stroke-width="1.3" />
<text transform="translate(1661 662.86) scale(0.9615 1)" font-size="17.16" text-anchor="middle" font-weight="normal" fill="#000" stroke="#000" stroke-width="0.35" font-family="Liberation Sans, Arial, Helvetica, sans-serif" >5</text>
<line x1="1676.26" y1="561.72" x2="1684.99" y2="572.78" stroke="#000" stroke-width="1.3" />
<text transform="translate(1693.72 589.74) scale(0.9615 1)" font-size="17.16" text-anchor="middle" font-weight="normal" fill="#000" stroke="#000" stroke-width="0.35" font-family="Liberation Sans, Arial, Helvetica, sans-serif" >10</text>
</g>
<text transform="translate(1083.95 518.99) rotate(70.7) scale(0.9615 1)" font-size="17.16" text-anchor="middle" font-weight="normal" fill="#000" stroke="#000" stroke-width="0.35" font-family="Liberation Sans, Arial, Helvetica, sans-serif" >UMAP3</text>
<text transform="translate(1311.83 761.18) rotate(29.3) scale(0.9615 1)" font-size="17.16" text-anchor="middle" font-weight="normal" fill="#000" stroke="#000" stroke-width="0.35" font-family="Liberation Sans, Arial, Helvetica, sans-serif" >UMAP1</text>
<text transform="translate(1679.83 676.05) rotate(-64.3) scale(0.9615 1)" font-size="17.16" text-anchor="middle" font-weight="normal" fill="#000" stroke="#000" stroke-width="0.35" font-family="Liberation Sans, Arial, Helvetica, sans-serif" >UMAP2</text>
<g>
<circle cx="335.06" cy="164.01" r="3.6" fill="none" stroke="#0000ff" stroke-width="2.05"/>
<circle cx="357.93" cy="166.44" r="4.5" fill="#ff0000"/>
<circle cx="362.94" cy="167.87" r="4.5" fill="#ff0000"/>
<circle cx="363.65" cy="172.59" r="4.5" fill="#ff0000"/>
<circle cx="370.08" cy="175.02" r="4.5" fill="#ff0000"/>
<circle cx="347.21" cy="169.3" r="4.5" fill="#ff0000"/>
<circle cx="342.92" cy="171.73" r="4.5" fill="#ff0000"/>
<circle cx="338.64" cy="173.59" r="4.5" fill="#ff0000"/>
<circle cx="334.35" cy="175.74" r="4.5" fill="#ff0000"/>
<circle cx="332.2" cy="177.45" r="4.5" fill="#ff0000"/>
<circle cx="323.91" cy="172.16" r="4.5" fill="#ff0000"/>
<circle cx="314.34" cy="180.31" r="4.5" fill="#ff0000"/>
<circle cx="302.19" cy="177.45" r="4.5" fill="#ff0000"/>
<circle cx="293.61" cy="189.32" r="4.5" fill="#ff0000"/>
<circle cx="290.75" cy="191.17" r="4.5" fill="#ff0000"/>
<circle cx="286.04" cy="195.03" r="4.5" fill="#ff0000"/>
<circle cx="278.32" cy="200.32" r="4.5" fill="#ff0000"/>
<circle cx="270.31" cy="204.32" r="4.5" fill="#ff0000"/>
<circle cx="270.31" cy="211.9" r="4.5" fill="#ff0000"/>
<circle cx="277.46" cy="214.33" r="4.5" fill="#ff0000"/>
<circle cx="256.73" cy="223.34" r="4.5" fill="#ff0000"/>
<circle cx="265.02" cy="230.05" r="4.5" fill="#ff0000"/>
<circle cx="263.6" cy="232.2" r="4.5" fill="#ff0000"/>
<circle cx="255.02" cy="232.91" r="4.5" fill="#ff0000"/>
<circle cx="255.45" cy="227.48" r="3.6" fill="none" stroke="#ffff00" stroke-width="2.05"/>
<circle cx="244.01" cy="234.77" r="4.5" fill="#ff0000"/>
<circle cx="248.59" cy="251.92" r="3.6" fill="none" stroke="#0000ff" stroke-width="2.05"/>
<circle cx="252.59" cy="255.5" r="4.5" fill="#ff0000"/>
<circle cx="247.59" cy="252.5" r="3.6" fill="none" stroke="#ffff00" stroke-width="2.05"/>
<circle cx="242.44" cy="279.8" r="4.5" fill="#ff0000"/>
<circle cx="241.15" cy="296.09" r="3.6" fill="none" stroke="#ffff00" stroke-width="2.05"/>
<circle cx="237.44" cy="322.68" r="4.5" fill="#ff0000"/>
<circle cx="242.44" cy="329.4" r="4.5" fill="#ff0000"/>
<circle cx="240.73" cy="337.69" r="4.5" fill="#ff0000"/>
<circle cx="241.44" cy="337.26" r="3.6" fill="none" stroke="#ffff00" stroke-width="2.05"/>
<circle cx="240.3" cy="345.12" r="4.5" fill="#ff0000"/>
<circle cx="237.15" cy="349.41" r="4.5" fill="#ff0000"/>
<circle cx="238.58" cy="358.7" r="3.6" fill="none" stroke="#ffff00" stroke-width="2.05"/>
<circle cx="241.15" cy="365.85" r="4.5" fill="#ff0000"/>
<circle cx="240.01" cy="374.43" r="4.5" fill="#ff0000"/>
<circle cx="237.87" cy="378.71" r="4.5" fill="#ff0000"/>
<circle cx="391.95" cy="193.6" r="4.5" fill="#ff0000"/>
<circle cx="393.67" cy="196.89" r="4.5" fill="#ff0000"/>
<circle cx="399.38" cy="200.04" r="4.5" fill="#ff0000"/>
<circle cx="412.96" cy="222.62" r="4.5" fill="#ff0000"/>
<circle cx="415.82" cy="225.77" r="4.5" fill="#ff0000"/>
<circle cx="419.4" cy="252.64" r="4.5" fill="#ff0000"/>
<circle cx="435.83" cy="355.13" r="4.5" fill="#ff0000"/>
<circle cx="433.4" cy="372.28" r="4.5" fill="#ff0000"/>
<circle cx="235.73" cy="383.6" r="3.6" fill="none" stroke="#ffff00" stroke-width="2.05"/>
<circle cx="238.31" cy="386.03" r="3.6" fill="none" stroke="#ffff00" stroke-width="2.05"/>
<circle cx="235.45" cy="397.46" r="4.5" fill="#ff0000"/>
<circle cx="231.73" cy="406.75" r="3.6" fill="none" stroke="#ffff00" stroke-width="2.05"/>
<circle cx="238.59" cy="410.04" r="4.5" fill="#ff0000"/>
<circle cx="239.31" cy="430.05" r="4.5" fill="#ff0000"/>
<circle cx="240.31" cy="438.63" r="4.5" fill="#ff0000"/>
<circle cx="240.02" cy="446.49" r="4.5" fill="#ff0000"/>
<circle cx="237.88" cy="445.35" r="3.6" fill="none" stroke="#ffff00" stroke-width="2.05"/>
<circle cx="243.88" cy="476.94" r="3.6" fill="none" stroke="#ffff00" stroke-width="2.05"/>
<circle cx="243.17" cy="485.8" r="4.5" fill="#ff0000"/>
<circle cx="246.45" cy="487.23" r="4.5" fill="#ff0000"/>
<circle cx="249.31" cy="487.95" r="4.5" fill="#ff0000"/>
<circle cx="251.17" cy="497.24" r="4.5" fill="#ff0000"/>
<circle cx="254.32" cy="505.53" r="4.5" fill="#00ff00"/>
<circle cx="253.17" cy="502.67" r="3.6" fill="none" stroke="#ffff00" stroke-width="2.05"/>
<circle cx="257.17" cy="517.25" r="4.5" fill="#ff0000"/>
<circle cx="257.89" cy="520.82" r="4.5" fill="#ff0000"/>
<circle cx="262.89" cy="522.25" r="4.5" fill="#ff0000"/>
<circle cx="261.46" cy="527.25" r="4.5" fill="#ff0000"/>
<circle cx="267.18" cy="527.54" r="4.5" fill="#00ff00"/>
<circle cx="270.75" cy="530.11" r="4.5" fill="#ff0000"/>
<circle cx="272.61" cy="536.55" r="3.6" fill="none" stroke="#ffff00" stroke-width="2.05"/>
<circle cx="265.32" cy="539.4" r="4.5" fill="#ff0000"/>
<circle cx="280.76" cy="535.54" r="3.6" fill="none" stroke="#ffff00" stroke-width="2.05"/>
<circle cx="280.04" cy="541.55" r="4.5" fill="#00ff00"/>
<circle cx="285.48" cy="542.98" r="4.5" fill="#ff0000"/>
<circle cx="282.19" cy="542.26" r="3.6" fill="none" stroke="#ffff00" stroke-width="2.05"/>
<circle cx="284.33" cy="544.41" r="3.6" fill="none" stroke="#ffff00" stroke-width="2.05"/>
<circle cx="287.91" cy="550.13" r="3.6" fill="none" stroke="#ffff00" stroke-width="2.05"/>
<circle cx="292.91" cy="554.41" r="3.6" fill="none" stroke="#ffff00" stroke-width="2.05"/>
<circle cx="293.62" cy="558.7" r="3.6" fill="none" stroke="#ffff00" stroke-width="2.05"/>
<circle cx="302.2" cy="553.41" r="4.5" fill="#ff0000"/>
<circle cx="300.05" cy="557.27" r="3.6" fill="none" stroke="#0000ff" stroke-width="2.05"/>
<circle cx="431.56" cy="409.33" r="4.5" fill="#ff0000"/>
<circle cx="429.41" cy="413.62" r="4.5" fill="#ff0000"/>
<circle cx="430.13" cy="423.62" r="4.5" fill="#ff0000"/>
<circle cx="306.04" cy="565.06" r="4.5" fill="#00ff00"/>
<circle cx="307.93" cy="567.09" r="4.5" fill="#00ff00"/>
<circle cx="313.62" cy="565.82" r="4.5" fill="#00ff00"/>
<circle cx="317.42" cy="567.97" r="3.6" fill="none" stroke="#0000ff" stroke-width="2.05"/>
<circle cx="318.68" cy="569.24" r="4.5" fill="#ff0000"/>
<circle cx="319.31" cy="570.5" r="4.5" fill="#00ff00"/>
<circle cx="334.11" cy="565.06" r="4.5" fill="#00ff00"/>
<circle cx="329.43" cy="573.03" r="4.5" fill="#00ff00"/>
<circle cx="333.22" cy="576.19" r="4.5" fill="#ff0000"/>
<circle cx="325.63" cy="581.25" r="3.6" fill="none" stroke="#ffff00" stroke-width="2.05"/>
<circle cx="343.34" cy="571.13" r="4.5" fill="#00ff00"/>
<circle cx="343.72" cy="572.65" r="3.6" fill="none" stroke="#0000ff" stroke-width="2.05"/>
<circle cx="348.39" cy="574.29" r="3.6" fill="none" stroke="#ffff00" stroke-width="2.05"/>
<circle cx="349.66" cy="566.71" r="3.6" fill="none" stroke="#ffff00" stroke-width="2.05"/>
<circle cx="353.45" cy="565.06" r="3.6" fill="none" stroke="#ffff00" stroke-width="2.05"/>
<circle cx="357.25" cy="566.71" r="3.6" fill="none" stroke="#ffff00" stroke-width="2.05"/>
<circle cx="359.77" cy="567.97" r="3.6" fill="none" stroke="#ffff00" stroke-width="2.05"/>
<circle cx="364.83" cy="562.92" r="4.5" fill="#00ff00"/>
<circle cx="367.36" cy="558.49" r="4.5" fill="#ff0000"/>
<circle cx="371.15" cy="555.96" r="4.5" fill="#00ff00"/>
<circle cx="374.95" cy="553.43" r="4.5" fill="#00ff00"/>
<circle cx="375.58" cy="558.49" r="3.6" fill="none" stroke="#0000ff" stroke-width="2.05"/>
<circle cx="380.01" cy="550.91" r="4.5" fill="#ff0000"/>
<circle cx="381.9" cy="554.95" r="4.5" fill="#ff0000"/>
<circle cx="385.7" cy="549.01" r="3.6" fill="none" stroke="#ffff00" stroke-width="2.05"/>
<circle cx="386.96" cy="551.54" r="3.6" fill="none" stroke="#ffff00" stroke-width="2.05"/>
<circle cx="388.86" cy="544.59" r="4.5" fill="#00ff00"/>
<circle cx="390.75" cy="538.26" r="3.6" fill="none" stroke="#0000ff" stroke-width="2.05"/>
<circle cx="392.02" cy="540.79" r="4.5" fill="#00ff00"/>
<circle cx="394.55" cy="545.85" r="4.5" fill="#00ff00"/>
<circle cx="396.44" cy="549.01" r="4.5" fill="#00ff00"/>
<circle cx="397.71" cy="549.64" r="3.6" fill="none" stroke="#ffff00" stroke-width="2.05"/>
<circle cx="399.6" cy="545.85" r="3.6" fill="none" stroke="#ffff00" stroke-width="2.05"/>
<circle cx="400.87" cy="535.74" r="4.5" fill="#00ff00"/>
<circle cx="400.87" cy="535.1" r="3.6" fill="none" stroke="#ffff00" stroke-width="2.05"/>
<circle cx="402.77" cy="539.53" r="4.5" fill="#00ff00"/>
<circle cx="405.29" cy="542.06" r="4.5" fill="#00ff00"/>
<circle cx="407.19" cy="545.85" r="4.5" fill="#00ff00"/>
<circle cx="404.03" cy="547.11" r="4.5" fill="#00ff00"/>
<circle cx="402.77" cy="547.11" r="3.6" fill="none" stroke="#ffff00" stroke-width="2.05"/>
<circle cx="412.5" cy="533.84" r="4.5" fill="#ff0000"/>
<circle cx="412.88" cy="538.26" r="4.5" fill="#ff0000"/>
<circle cx="416.67" cy="538.9" r="4.5" fill="#00ff00"/>
<circle cx="421.1" cy="533.84" r="4.5" fill="#00ff00"/>
<circle cx="423" cy="528.78" r="3.6" fill="none" stroke="#ffff00" stroke-width="2.05"/>
<circle cx="427.42" cy="532.83" r="3.6" fill="none" stroke="#ffff00" stroke-width="2.05"/>
<circle cx="436.9" cy="527.52" r="4.5" fill="#00ff00"/>
<circle cx="438.8" cy="524.99" r="4.5" fill="#00ff00"/>
<circle cx="439.43" cy="521.83" r="3.6" fill="none" stroke="#0000ff" stroke-width="2.05"/>
<circle cx="440.07" cy="523.09" r="3.6" fill="none" stroke="#ffff00" stroke-width="2.05"/>
<circle cx="445.12" cy="520.57" r="4.5" fill="#00ff00"/>
<circle cx="441.96" cy="514.5" r="4.5" fill="#ff0000"/>
<circle cx="448.28" cy="513.23" r="4.5" fill="#ff0000"/>
<circle cx="449.55" cy="518.67" r="4.5" fill="#00ff00"/>
<circle cx="453.97" cy="515.51" r="3.6" fill="none" stroke="#0000ff" stroke-width="2.05"/>
<circle cx="450.18" cy="509.19" r="3.6" fill="none" stroke="#ffff00" stroke-width="2.05"/>
<circle cx="450.18" cy="519.93" r="3.6" fill="none" stroke="#ffff00" stroke-width="2.05"/>
<circle cx="464.72" cy="502.24" r="4.5" fill="#00ff00"/>
<circle cx="472.31" cy="498.44" r="3.6" fill="none" stroke="#0000ff" stroke-width="2.05"/>
<circle cx="473.57" cy="499.71" r="3.6" fill="none" stroke="#0000ff" stroke-width="2.05"/>
<circle cx="471.68" cy="504.76" r="3.6" fill="none" stroke="#ffff00" stroke-width="2.05"/>
<circle cx="478.63" cy="493.39" r="3.6" fill="none" stroke="#ffff00" stroke-width="2.05"/>
<circle cx="479.9" cy="494.65" r="3.6" fill="none" stroke="#ffff00" stroke-width="2.05"/>
<circle cx="477.37" cy="486.43" r="4.5" fill="#00ff00"/>
<circle cx="483.06" cy="484.54" r="4.5" fill="#ff0000"/>
<circle cx="486.22" cy="486.43" r="4.5" fill="#00ff00"/>
<circle cx="487.48" cy="487.7" r="3.6" fill="none" stroke="#0000ff" stroke-width="2.05"/>
<circle cx="487.48" cy="480.75" r="3.6" fill="none" stroke="#ffff00" stroke-width="2.05"/>
<circle cx="490.01" cy="481.38" r="3.6" fill="none" stroke="#ffff00" stroke-width="2.05"/>
<circle cx="493.8" cy="476.95" r="4.5" fill="#00ff00"/>
<circle cx="495.07" cy="472.53" r="3.6" fill="none" stroke="#0000ff" stroke-width="2.05"/>
<circle cx="501.84" cy="464.34" r="3.6" fill="none" stroke="#0000ff" stroke-width="2.05"/>
<circle cx="501.21" cy="465.86" r="3.6" fill="none" stroke="#ffff00" stroke-width="2.05"/>
<circle cx="513.22" cy="448.54" r="4.5" fill="#00ff00"/>
<circle cx="510.69" cy="452.33" r="4.5" fill="#00ff00"/>
<circle cx="509.43" cy="445.38" r="3.6" fill="none" stroke="#ffff00" stroke-width="2.05"/>
<circle cx="516.38" cy="442.85" r="4.5" fill="#ff0000"/>
<circle cx="518.28" cy="439.69" r="4.5" fill="#00ff00"/>
<circle cx="518.91" cy="439.06" r="3.6" fill="none" stroke="#ffff00" stroke-width="2.05"/>
<circle cx="521.82" cy="435.27" r="4.5" fill="#ff0000"/>
<circle cx="525.49" cy="429.58" r="4.5" fill="#00ff00"/>
<circle cx="532.19" cy="415.67" r="3.6" fill="none" stroke="#ffff00" stroke-width="2.05"/>
<circle cx="535.98" cy="418.2" r="3.6" fill="none" stroke="#ffff00" stroke-width="2.05"/>
<circle cx="533.45" cy="417.57" r="3.6" fill="none" stroke="#ffff00" stroke-width="2.05"/>
<circle cx="532.82" cy="410.23" r="3.6" fill="none" stroke="#0000ff" stroke-width="2.05"/>
<circle cx="533.45" cy="412.51" r="3.6" fill="none" stroke="#ffff00" stroke-width="2.05"/>
<circle cx="539.14" cy="404.29" r="3.6" fill="none" stroke="#ffff00" stroke-width="2.05"/>
<circle cx="539.14" cy="408.09" r="4.5" fill="#00ff00"/>
<circle cx="541.67" cy="410.23" r="3.6" fill="none" stroke="#0000ff" stroke-width="2.05"/>
<circle cx="543.19" cy="396.33" r="4.5" fill="#00ff00"/>
<circle cx="546.73" cy="384.45" r="4.5" fill="#00ff00"/>
<circle cx="555.58" cy="386.6" r="4.5" fill="#ff0000"/>
<circle cx="557.86" cy="372.44" r="4.5" fill="#ff0000"/>
<circle cx="562.53" cy="364.47" r="4.5" fill="#00ff00"/>
<circle cx="565.7" cy="359.42" r="4.5" fill="#00ff00"/>
<circle cx="568.22" cy="356.89" r="4.5" fill="#00ff00"/>
<circle cx="569.49" cy="353.73" r="3.6" fill="none" stroke="#ffff00" stroke-width="2.05"/>
<circle cx="577.08" cy="353.09" r="3.6" fill="none" stroke="#ffff00" stroke-width="2.05"/>
<circle cx="572.02" cy="348.67" r="3.6" fill="none" stroke="#0000ff" stroke-width="2.05"/>
<circle cx="573.28" cy="347.41" r="4.5" fill="#00ff00"/>
<circle cx="574.55" cy="344.25" r="3.6" fill="none" stroke="#ffff00" stroke-width="2.05"/>
<circle cx="576.44" cy="341.72" r="4.5" fill="#00ff00"/>
<circle cx="583.4" cy="336.03" r="3.6" fill="none" stroke="#0000ff" stroke-width="2.05"/>
<circle cx="580.62" cy="337.55" r="4.5" fill="#ff0000"/>
<circle cx="585.93" cy="332.87" r="4.5" fill="#00ff00"/>
<circle cx="585.93" cy="329.71" r="3.6" fill="none" stroke="#ffff00" stroke-width="2.05"/>
<circle cx="589.09" cy="327.18" r="4.5" fill="#00ff00"/>
<circle cx="592.88" cy="333.88" r="3.6" fill="none" stroke="#ffff00" stroke-width="2.05"/>
<circle cx="597.31" cy="322.12" r="4.5" fill="#00ff00"/>
<circle cx="594.78" cy="319.59" r="4.5" fill="#00ff00"/>
<circle cx="603" cy="312.64" r="3.6" fill="none" stroke="#0000ff" stroke-width="2.05"/>
<circle cx="604.89" cy="313.91" r="4.5" fill="#00ff00"/>
<circle cx="603.63" cy="317.7" r="3.6" fill="none" stroke="#ffff00" stroke-width="2.05"/>
<circle cx="607.42" cy="312.01" r="3.6" fill="none" stroke="#0000ff" stroke-width="2.05"/>
<circle cx="608.69" cy="312.01" r="4.5" fill="#00ff00"/>
<circle cx="616.9" cy="316.43" r="3.6" fill="none" stroke="#ffff00" stroke-width="2.05"/>
<circle cx="616.9" cy="319.59" r="3.6" fill="none" stroke="#ffff00" stroke-width="2.05"/>
<circle cx="621.33" cy="311.38" r="3.6" fill="none" stroke="#0000ff" stroke-width="2.05"/>
<circle cx="619.43" cy="312.01" r="4.5" fill="#00ff00"/>
<circle cx="625.76" cy="301.9" r="3.6" fill="none" stroke="#0000ff" stroke-width="2.05"/>
<circle cx="623.86" cy="302.53" r="4.5" fill="#00ff00"/>
<circle cx="648.54" cy="248.53" r="3.6" fill="none" stroke="#ffff00" stroke-width="2.05"/>
<circle cx="678.76" cy="253.46" r="4.5" fill="#00ff00"/>
<circle cx="645.63" cy="261.43" r="3.6" fill="none" stroke="#ffff00" stroke-width="2.05"/>
<circle cx="654.74" cy="265.6" r="3.6" fill="none" stroke="#0000ff" stroke-width="2.05"/>
<circle cx="635.27" cy="267.11" r="4.5" fill="#00ff00"/>
<circle cx="640.2" cy="275.96" r="4.5" fill="#00ff00"/>
<circle cx="625.15" cy="295.18" r="3.6" fill="none" stroke="#ffff00" stroke-width="2.05"/>
<circle cx="623.89" cy="297.45" r="4.5" fill="#00ff00"/>
<circle cx="776.12" cy="294.29" r="4.5" fill="#ff0000"/>
<circle cx="784.09" cy="294.67" r="3.6" fill="none" stroke="#ffff00" stroke-width="2.05"/>
<circle cx="781.94" cy="293.91" r="4.5" fill="#00ff00"/>
</g>
<g>
<circle cx="1116.6" cy="286.4" r="4.5" fill="#ff0000"/>
<circle cx="1130" cy="303.7" r="3.6" fill="none" stroke="#ffff00" stroke-width="2.05"/>
<circle cx="1135.5" cy="357.6" r="3.6" fill="none" stroke="#ffff00" stroke-width="2.05"/>
<circle cx="1784.4" cy="196.5" r="3.6" fill="none" stroke="#ffff00" stroke-width="2.05"/>
<circle cx="1706.5" cy="277.1" r="4.5" fill="#ff0000"/>
<circle cx="1156.93" cy="472.75" r="4.5" fill="#ff0000"/>
<circle cx="1171.09" cy="493.36" r="4.5" fill="#ff0000"/>
<circle cx="1168.57" cy="504.61" r="4.5" fill="#ff0000"/>
<circle cx="1182.73" cy="528.38" r="4.5" fill="#ff0000"/>
<circle cx="1185.26" cy="533.18" r="3.6" fill="none" stroke="#ffff00" stroke-width="2.05"/>
<circle cx="1182.09" cy="541.27" r="3.6" fill="none" stroke="#ffff00" stroke-width="2.05"/>
<circle cx="1191.96" cy="534.95" r="3.6" fill="none" stroke="#ffff00" stroke-width="2.05"/>
<circle cx="1190.69" cy="536.6" r="3.6" fill="none" stroke="#ffff00" stroke-width="2.05"/>
<circle cx="1193.85" cy="538.49" r="3.6" fill="none" stroke="#ffff00" stroke-width="2.05"/>
<circle cx="1195.12" cy="541.65" r="4.5" fill="#00ff00"/>
<circle cx="1203.59" cy="533.43" r="4.5" fill="#ff0000"/>
<circle cx="1209.66" cy="538.49" r="3.6" fill="none" stroke="#ffff00" stroke-width="2.05"/>
<circle cx="1202.07" cy="544.56" r="4.5" fill="#ff0000"/>
<circle cx="1208.39" cy="544.56" r="4.5" fill="#ff0000"/>
<circle cx="1206.5" cy="546.71" r="4.5" fill="#ff0000"/>
<circle cx="1204.6" cy="546.08" r="3.6" fill="none" stroke="#ffff00" stroke-width="2.05"/>
<circle cx="1213.45" cy="552.14" r="3.6" fill="none" stroke="#ffff00" stroke-width="2.05"/>
<circle cx="1223.95" cy="565.04" r="4.5" fill="#ff0000"/>
<circle cx="1241.27" cy="580.84" r="4.5" fill="#00ff00"/>
<circle cx="1245.7" cy="580.21" r="4.5" fill="#00ff00"/>
<circle cx="1251.39" cy="583.37" r="4.5" fill="#00ff00"/>
<circle cx="1248.22" cy="584.63" r="4.5" fill="#ff0000"/>
<circle cx="1248.22" cy="587.79" r="3.6" fill="none" stroke="#ffff00" stroke-width="2.05"/>
<circle cx="1250.75" cy="589.06" r="3.6" fill="none" stroke="#0000ff" stroke-width="2.05"/>
<circle cx="1248.22" cy="592.22" r="3.6" fill="none" stroke="#ffff00" stroke-width="2.05"/>
<circle cx="1262.13" cy="592.22" r="4.5" fill="#ff0000"/>
<circle cx="1265.93" cy="594.11" r="4.5" fill="#ff0000"/>
<circle cx="1267.19" cy="597.91" r="4.5" fill="#ff0000"/>
<circle cx="1269.09" cy="601.7" r="4.5" fill="#ff0000"/>
<circle cx="1270.98" cy="602.33" r="4.5" fill="#ff0000"/>
<circle cx="1264.03" cy="595.38" r="3.6" fill="none" stroke="#ffff00" stroke-width="2.05"/>
<circle cx="1272.88" cy="599.17" r="4.5" fill="#00ff00"/>
<circle cx="1273.51" cy="604.23" r="3.6" fill="none" stroke="#ffff00" stroke-width="2.05"/>
<circle cx="1274.15" cy="600.44" r="3.6" fill="none" stroke="#ffff00" stroke-width="2.05"/>
<circle cx="1282.36" cy="606.76" r="3.6" fill="none" stroke="#ffff00" stroke-width="2.05"/>
<circle cx="1281.1" cy="603.6" r="3.6" fill="none" stroke="#ffff00" stroke-width="2.05"/>
<circle cx="1286.16" cy="597.91" r="4.5" fill="#ff0000"/>
<circle cx="1286.79" cy="598.54" r="3.6" fill="none" stroke="#ffff00" stroke-width="2.05"/>
<circle cx="1291.21" cy="592.85" r="4.5" fill="#ff0000"/>
<circle cx="1290.58" cy="597.27" r="4.5" fill="#ff0000"/>
<circle cx="1298.17" cy="592.22" r="4.5" fill="#00ff00"/>
<circle cx="1302.59" cy="597.27" r="4.5" fill="#ff0000"/>
<circle cx="1306.39" cy="599.8" r="4.5" fill="#ff0000"/>
<circle cx="1303.86" cy="602.96" r="4.5" fill="#ff0000"/>
<circle cx="1301.33" cy="601.07" r="3.6" fill="none" stroke="#ffff00" stroke-width="2.05"/>
<circle cx="1305.12" cy="601.7" r="3.6" fill="none" stroke="#ffff00" stroke-width="2.05"/>
<circle cx="1306.39" cy="607.39" r="4.5" fill="#ff0000"/>
<circle cx="1312.71" cy="594.11" r="3.6" fill="none" stroke="#ffff00" stroke-width="2.05"/>
<circle cx="1313.97" cy="609.54" r="4.5" fill="#00ff00"/>
<circle cx="1315.62" cy="606.76" r="3.6" fill="none" stroke="#0000ff" stroke-width="2.05"/>
<circle cx="1318.4" cy="605.24" r="3.6" fill="none" stroke="#ffff00" stroke-width="2.05"/>
<circle cx="1325.35" cy="589.06" r="4.5" fill="#00ff00"/>
<circle cx="1325.35" cy="590.95" r="4.5" fill="#ff0000"/>
<circle cx="1325.35" cy="596.64" r="3.6" fill="none" stroke="#ffff00" stroke-width="2.05"/>
<circle cx="1331.04" cy="585.9" r="3.6" fill="none" stroke="#ffff00" stroke-width="2.05"/>
<circle cx="1338.38" cy="592.85" r="4.5" fill="#00ff00"/>
<circle cx="1338.38" cy="592.22" r="3.6" fill="none" stroke="#0000ff" stroke-width="2.05"/>
<circle cx="1337.37" cy="594.11" r="3.6" fill="none" stroke="#ffff00" stroke-width="2.05"/>
<circle cx="1341.16" cy="589.06" r="3.6" fill="none" stroke="#ffff00" stroke-width="2.05"/>
<circle cx="1344.95" cy="586.53" r="4.5" fill="#00ff00"/>
<circle cx="1346.22" cy="584" r="4.5" fill="#ff0000"/>
<circle cx="1346.85" cy="590.32" r="4.5" fill="#ff0000"/>
<circle cx="1342.42" cy="594.11" r="3.6" fill="none" stroke="#ffff00" stroke-width="2.05"/>
<circle cx="1350.37" cy="573.91" r="4.5" fill="#ff0000"/>
<circle cx="1355.17" cy="581.25" r="4.5" fill="#00ff00"/>
<circle cx="1352.64" cy="586.94" r="3.6" fill="none" stroke="#ffff00" stroke-width="2.05"/>
<circle cx="1352.01" cy="589.46" r="3.6" fill="none" stroke="#ffff00" stroke-width="2.05"/>
<circle cx="1361.5" cy="587.57" r="4.5" fill="#ff0000"/>
<circle cx="1360.86" cy="573.66" r="4.5" fill="#ff0000"/>
<circle cx="1361.5" cy="576.82" r="3.6" fill="none" stroke="#ffff00" stroke-width="2.05"/>
<circle cx="1360.86" cy="574.93" r="3.6" fill="none" stroke="#ffff00" stroke-width="2.05"/>
<circle cx="1365.67" cy="570.12" r="3.6" fill="none" stroke="#0000ff" stroke-width="2.05"/>
<circle cx="1364.66" cy="572.4" r="4.5" fill="#ff0000"/>
<circle cx="1370.35" cy="573.03" r="4.5" fill="#00ff00"/>
<circle cx="1372.24" cy="577.45" r="4.5" fill="#00ff00"/>
<circle cx="1369.71" cy="578.72" r="4.5" fill="#00ff00"/>
<circle cx="1370.35" cy="586.3" r="3.6" fill="none" stroke="#ffff00" stroke-width="2.05"/>
<circle cx="1374.14" cy="584.41" r="3.6" fill="none" stroke="#0000ff" stroke-width="2.05"/>
<circle cx="1373.51" cy="585.67" r="3.6" fill="none" stroke="#ffff00" stroke-width="2.05"/>
<circle cx="1377.93" cy="571.13" r="4.5" fill="#ff0000"/>
<circle cx="1377.93" cy="573.03" r="3.6" fill="none" stroke="#0000ff" stroke-width="2.05"/>
<circle cx="1381.09" cy="568.6" r="4.5" fill="#ff0000"/>
<circle cx="1383.62" cy="571.13" r="4.5" fill="#ff0000"/>
<circle cx="1386.15" cy="574.29" r="4.5" fill="#ff0000"/>
<circle cx="1384.89" cy="577.45" r="3.6" fill="none" stroke="#ffff00" stroke-width="2.05"/>
<circle cx="1388.05" cy="585.04" r="4.5" fill="#00ff00"/>
<circle cx="1382.74" cy="584.41" r="4.5" fill="#ff0000"/>
<circle cx="1391.59" cy="567.97" r="4.5" fill="#00ff00"/>
<circle cx="1395.63" cy="575.56" r="4.5" fill="#ff0000"/>
<circle cx="1395" cy="574.93" r="3.6" fill="none" stroke="#ffff00" stroke-width="2.05"/>
<circle cx="1405.75" cy="577.2" r="4.5" fill="#ff0000"/>
<circle cx="1405.12" cy="557.23" r="3.6" fill="none" stroke="#ffff00" stroke-width="2.05"/>
<circle cx="1401.96" cy="559.76" r="3.6" fill="none" stroke="#ffff00" stroke-width="2.05"/>
<circle cx="1400.69" cy="563.55" r="3.6" fill="none" stroke="#ffff00" stroke-width="2.05"/>
<circle cx="1399.43" cy="567.34" r="3.6" fill="none" stroke="#ffff00" stroke-width="2.05"/>
<circle cx="1407.01" cy="567.34" r="4.5" fill="#00ff00"/>
<circle cx="1408.91" cy="564.18" r="3.6" fill="none" stroke="#0000ff" stroke-width="2.05"/>
<circle cx="1408.28" cy="566.08" r="3.6" fill="none" stroke="#ffff00" stroke-width="2.05"/>
<circle cx="1412.7" cy="561.02" r="3.6" fill="none" stroke="#ffff00" stroke-width="2.05"/>
<circle cx="1410.81" cy="569.87" r="3.6" fill="none" stroke="#ffff00" stroke-width="2.05"/>
<circle cx="1409.54" cy="573.03" r="3.6" fill="none" stroke="#ffff00" stroke-width="2.05"/>
<circle cx="1414.6" cy="567.97" r="4.5" fill="#00ff00"/>
<circle cx="1417.13" cy="563.55" r="4.5" fill="#00ff00"/>
<circle cx="1419.03" cy="558.49" r="4.5" fill="#00ff00"/>
<circle cx="1419.66" cy="554.7" r="4.5" fill="#00ff00"/>
<circle cx="1417.76" cy="549.64" r="3.6" fill="none" stroke="#ffff00" stroke-width="2.05"/>
<circle cx="1420.92" cy="563.55" r="3.6" fill="none" stroke="#0000ff" stroke-width="2.05"/>
<circle cx="1427.25" cy="561.02" r="4.5" fill="#00ff00"/>
<circle cx="1427.25" cy="563.55" r="3.6" fill="none" stroke="#ffff00" stroke-width="2.05"/>
<circle cx="1428.51" cy="558.49" r="4.5" fill="#ff0000"/>
<circle cx="1431.04" cy="555.96" r="4.5" fill="#00ff00"/>
<circle cx="1434.2" cy="554.7" r="4.5" fill="#ff0000"/>
<circle cx="1436.1" cy="558.49" r="4.5" fill="#ff0000"/>
<circle cx="1436.73" cy="561.02" r="4.5" fill="#00ff00"/>
<circle cx="1432.3" cy="551.54" r="3.6" fill="none" stroke="#ffff00" stroke-width="2.05"/>
<circle cx="1443.05" cy="552.8" r="4.5" fill="#00ff00"/>
<circle cx="1443.05" cy="554.07" r="3.6" fill="none" stroke="#ffff00" stroke-width="2.05"/>
<circle cx="1441.79" cy="542.06" r="4.5" fill="#00ff00"/>
<circle cx="1444.32" cy="546.48" r="4.5" fill="#ff0000"/>
<circle cx="1438.25" cy="546.48" r="3.6" fill="none" stroke="#0000ff" stroke-width="2.05"/>
<circle cx="1447.48" cy="540.16" r="4.5" fill="#ff0000"/>
<circle cx="1448.74" cy="546.48" r="3.6" fill="none" stroke="#0000ff" stroke-width="2.05"/>
<circle cx="1454.43" cy="542.06" r="4.5" fill="#00ff00"/>
<circle cx="1452.53" cy="538.9" r="3.6" fill="none" stroke="#ffff00" stroke-width="2.05"/>
<circle cx="1455.06" cy="544.59" r="3.6" fill="none" stroke="#ffff00" stroke-width="2.05"/>
<circle cx="1456.07" cy="549.01" r="3.6" fill="none" stroke="#0000ff" stroke-width="2.05"/>
<circle cx="1458.22" cy="540.16" r="4.5" fill="#00ff00"/>
<circle cx="1462.02" cy="538.26" r="4.5" fill="#ff0000"/>
<circle cx="1463.28" cy="543.95" r="4.5" fill="#ff0000"/>
<circle cx="1463.91" cy="541.43" r="3.6" fill="none" stroke="#0000ff" stroke-width="2.05"/>
<circle cx="1459.49" cy="543.95" r="3.6" fill="none" stroke="#ffff00" stroke-width="2.05"/>
<circle cx="1467.71" cy="537.63" r="3.6" fill="none" stroke="#ffff00" stroke-width="2.05"/>
<circle cx="1471.5" cy="535.74" r="3.6" fill="none" stroke="#ffff00" stroke-width="2.05"/>
<circle cx="1472.13" cy="538.9" r="3.6" fill="none" stroke="#ffff00" stroke-width="2.05"/>
<circle cx="1472.77" cy="531.31" r="4.5" fill="#ff0000"/>
<circle cx="1484.78" cy="518.04" r="4.5" fill="#ff0000"/>
<circle cx="1486.67" cy="517.41" r="4.5" fill="#00ff00"/>
<circle cx="1487.31" cy="521.83" r="4.5" fill="#00ff00"/>
<circle cx="1489.2" cy="525.62" r="4.5" fill="#ff0000"/>
<circle cx="1481.62" cy="524.36" r="3.6" fill="none" stroke="#0000ff" stroke-width="2.05"/>
<circle cx="1484.15" cy="525.62" r="3.6" fill="none" stroke="#ffff00" stroke-width="2.05"/>
<circle cx="1487.31" cy="522.46" r="3.6" fill="none" stroke="#ffff00" stroke-width="2.05"/>
<circle cx="1485.41" cy="525.62" r="3.6" fill="none" stroke="#0000ff" stroke-width="2.05"/>
<circle cx="1489.2" cy="530.05" r="4.5" fill="#00ff00"/>
<circle cx="1482.88" cy="531.94" r="3.6" fill="none" stroke="#ffff00" stroke-width="2.05"/>
<circle cx="1486.67" cy="533.21" r="3.6" fill="none" stroke="#ffff00" stroke-width="2.05"/>
<circle cx="1498.05" cy="514.25" r="4.5" fill="#00ff00"/>
<circle cx="1503.11" cy="512.98" r="3.6" fill="none" stroke="#0000ff" stroke-width="2.05"/>
<circle cx="1500.33" cy="514.88" r="4.5" fill="#ff0000"/>
<circle cx="1505.64" cy="506.66" r="4.5" fill="#ff0000"/>
<circle cx="1508.17" cy="504.76" r="4.5" fill="#ff0000"/>
<circle cx="1512.59" cy="502.24" r="4.5" fill="#00ff00"/>
<circle cx="1518.28" cy="494.65" r="3.6" fill="none" stroke="#0000ff" stroke-width="2.05"/>
<circle cx="1518.28" cy="495.92" r="4.5" fill="#ff0000"/>
<circle cx="1522.08" cy="494.02" r="3.6" fill="none" stroke="#ffff00" stroke-width="2.05"/>
<circle cx="1519.55" cy="490.86" r="4.5" fill="#00ff00"/>
<circle cx="1523.34" cy="488.96" r="4.5" fill="#00ff00"/>
<circle cx="1526.5" cy="488.96" r="4.5" fill="#ff0000"/>
<circle cx="1528.4" cy="482.01" r="4.5" fill="#ff0000"/>
<circle cx="1536.62" cy="477.58" r="3.6" fill="none" stroke="#0000ff" stroke-width="2.05"/>
<circle cx="1533.46" cy="476.95" r="4.5" fill="#00ff00"/>
<circle cx="1542.94" cy="470" r="3.6" fill="none" stroke="#0000ff" stroke-width="2.05"/>
<circle cx="1539.78" cy="471.26" r="4.5" fill="#00ff00"/>
<circle cx="1541.73" cy="465.2" r="4.5" fill="#ff0000"/>
<circle cx="1546.15" cy="458.25" r="4.5" fill="#00ff00"/>
<circle cx="1553.99" cy="451.29" r="4.5" fill="#ff0000"/>
<circle cx="1551.84" cy="443.08" r="4.5" fill="#00ff00"/>
<circle cx="1556.9" cy="445.61" r="3.6" fill="none" stroke="#ffff00" stroke-width="2.05"/>
<circle cx="1557.53" cy="448.77" r="3.6" fill="none" stroke="#ffff00" stroke-width="2.05"/>
<circle cx="1560.06" cy="439.92" r="3.6" fill="none" stroke="#ffff00" stroke-width="2.05"/>
<circle cx="1559.43" cy="443.08" r="3.6" fill="none" stroke="#ffff00" stroke-width="2.05"/>
<circle cx="1565.75" cy="436.76" r="3.6" fill="none" stroke="#0000ff" stroke-width="2.05"/>
<circle cx="1566.13" cy="433.97" r="4.5" fill="#ff0000"/>
<circle cx="1568.91" cy="424.75" r="4.5" fill="#00ff00"/>
<circle cx="1572.7" cy="420.32" r="4.5" fill="#00ff00"/>
<circle cx="1575.87" cy="427.91" r="4.5" fill="#00ff00"/>
<circle cx="1570.81" cy="428.54" r="4.5" fill="#00ff00"/>
<circle cx="1573.97" cy="424.11" r="4.5" fill="#00ff00"/>
<circle cx="1583.45" cy="411.47" r="4.5" fill="#ff0000"/>
<circle cx="1580.29" cy="400.73" r="4.5" fill="#ff0000"/>
<circle cx="1580.29" cy="405.78" r="4.5" fill="#00ff00"/>
<circle cx="1585.98" cy="400.1" r="4.5" fill="#00ff00"/>
<circle cx="1584.97" cy="405.15" r="3.6" fill="none" stroke="#ffff00" stroke-width="2.05"/>
<circle cx="1588.51" cy="392.26" r="4.5" fill="#ff0000"/>
<circle cx="1593.19" cy="392.26" r="4.5" fill="#00ff00"/>
<circle cx="1600.9" cy="373.55" r="4.5" fill="#00ff00"/>
<circle cx="1610.89" cy="364.45" r="4.5" fill="#00ff00"/>
<circle cx="1610.64" cy="366.6" r="3.6" fill="none" stroke="#ffff00" stroke-width="2.05"/>
<circle cx="1617.59" cy="356.48" r="3.6" fill="none" stroke="#0000ff" stroke-width="2.05"/>
<circle cx="1623.28" cy="350.16" r="4.5" fill="#ff0000"/>
<circle cx="1630.87" cy="339.42" r="4.5" fill="#00ff00"/>
<circle cx="1629.22" cy="341.31" r="3.6" fill="none" stroke="#ffff00" stroke-width="2.05"/>
<circle cx="1632.13" cy="338.78" r="4.5" fill="#ff0000"/>
<circle cx="1649.46" cy="319.82" r="4.5" fill="#00ff00"/>
<circle cx="1660.58" cy="312.62" r="4.5" fill="#00ff00"/>
<circle cx="1677.02" cy="291.12" r="4.5" fill="#ff0000"/>
<circle cx="1692.45" cy="281.26" r="3.6" fill="none" stroke="#0000ff" stroke-width="2.05"/>
</g>
<rect x="237.4" y="37.7" width="112.9" height="15.8" fill="#ff0000"/>
<rect x="350.3" y="37.7" width="112.9" height="15.8" fill="#00ff00"/>
<rect x="463.2" y="37.7" width="112.9" height="15.8" fill="#0000ff"/>
<rect x="576.1" y="37.7" width="112.9" height="15.8" fill="#ffff00"/>
<line x1="350.3" y1="37.7" x2="350.3" y2="53.5" stroke="#000" stroke-width="0.8" />
<line x1="463.2" y1="37.7" x2="463.2" y2="53.5" stroke="#000" stroke-width="0.8" />
<line x1="576.1" y1="37.7" x2="576.1" y2="53.5" stroke="#000" stroke-width="0.8" />
<rect x="237.4" y="37.7" width="451.6" height="15.8" fill="none" stroke="#000" stroke-width="1.5"/>
<line x1="297.9" y1="27.2" x2="297.9" y2="37.7" stroke="#000" stroke-width="1.2" />
<text transform="translate(297.9 13.6) scale(0.9615 1)" font-size="17.68" text-anchor="middle" font-weight="normal" fill="#000" stroke="#000" stroke-width="0.35" font-family="Liberation Sans, Arial, Helvetica, sans-serif" >AD</text>
<line x1="410.8" y1="27.2" x2="410.8" y2="37.7" stroke="#000" stroke-width="1.2" />
<text transform="translate(410.8 13.6) scale(0.9615 1)" font-size="17.68" text-anchor="middle" font-weight="normal" fill="#000" stroke="#000" stroke-width="0.35" font-family="Liberation Sans, Arial, Helvetica, sans-serif" >CN</text>
<line x1="523.7" y1="27.2" x2="523.7" y2="37.7" stroke="#000" stroke-width="1.2" />
<text transform="translate(523.7 13.6) scale(0.9615 1)" font-size="17.68" text-anchor="middle" font-weight="normal" fill="#000" stroke="#000" stroke-width="0.35" font-family="Liberation Sans, Arial, Helvetica, sans-serif" >PA</text>
<line x1="636.6" y1="27.2" x2="636.6" y2="37.7" stroke="#000" stroke-width="1.2" />
<text transform="translate(636.6 13.6) scale(0.9615 1)" font-size="17.68" text-anchor="middle" font-weight="normal" fill="#000" stroke="#000" stroke-width="0.35" font-family="Liberation Sans, Arial, Helvetica, sans-serif" >PSP</text>
<rect x="1207.7" y="53.1" width="112.9" height="16" fill="#ff0000"/>
<rect x="1320.6" y="53.1" width="112.9" height="16" fill="#00ff00"/>
<rect x="1433.5" y="53.1" width="112.9" height="16" fill="#0000ff"/>
<rect x="1546.4" y="53.1" width="112.9" height="16" fill="#ffff00"/>
<line x1="1320.6" y1="53.1" x2="1320.6" y2="69.1" stroke="#000" stroke-width="0.8" />
<line x1="1433.5" y1="53.1" x2="1433.5" y2="69.1" stroke="#000" stroke-width="0.8" />
<line x1="1546.4" y1="53.1" x2="1546.4" y2="69.1" stroke="#000" stroke-width="0.8" />
<rect x="1207.7" y="53.1" width="451.6" height="16" fill="none" stroke="#000" stroke-width="1.5"/>
<line x1="1268.2" y1="42.2" x2="1268.2" y2="53.1" stroke="#000" stroke-width="1.2" />
<text transform="translate(1268.2 28.9) scale(0.9615 1)" font-size="17.68" text-anchor="middle" font-weight="normal" fill="#000" stroke="#000" stroke-width="0.35" font-family="Liberation Sans, Arial, Helvetica, sans-serif" >AD</text>
<line x1="1381.1" y1="42.2" x2="1381.1" y2="53.1" stroke="#000" stroke-width="1.2" />
<text transform="translate(1381.1 28.9) scale(0.9615 1)" font-size="17.68" text-anchor="middle" font-weight="normal" fill="#000" stroke="#000" stroke-width="0.35" font-family="Liberation Sans, Arial, Helvetica, sans-serif" >CN</text>
<line x1="1493.9" y1="42.2" x2="1493.9" y2="53.1" stroke="#000" stroke-width="1.2" />
<text transform="translate(1493.9 28.9) scale(0.9615 1)" font-size="17.68" text-anchor="middle" font-weight="normal" fill="#000" stroke="#000" stroke-width="0.35" font-family="Liberation Sans, Arial, Helvetica, sans-serif" >PA</text>
<line x1="1606.8" y1="42.2" x2="1606.8" y2="53.1" stroke="#000" stroke-width="1.2" />
<text transform="translate(1606.8 28.9) scale(0.9615 1)" font-size="17.68" text-anchor="middle" font-weight="normal" fill="#000" stroke="#000" stroke-width="0.35" font-family="Liberation Sans, Arial, Helvetica, sans-serif" >PSP</text>
<text transform="translate(47.2 102.9) scale(1.0577 1)" font-size="83.2" text-anchor="start" font-weight="bold" fill="#000" font-family="Liberation Sans, Arial, Helvetica, sans-serif" >A</text>
<text transform="translate(1067.4 102.9) scale(0.9615 1)" font-size="83.2" text-anchor="start" font-weight="bold" fill="#000" font-family="Liberation Sans, Arial, Helvetica, sans-serif" >B</text>
<text transform="translate(50 914.3) scale(0.9615 1)" font-size="83.2" text-anchor="start" font-weight="bold" fill="#000" font-family="Liberation Sans, Arial, Helvetica, sans-serif" >C</text>
<text transform="translate(1067.4 914.3) scale(0.9615 1)" font-size="83.2" text-anchor="start" font-weight="bold" fill="#000" font-family="Liberation Sans, Arial, Helvetica, sans-serif" >D</text>
<rect x="683.2" y="755.3" width="157.8" height="90.9" fill="#fff" stroke="#000" stroke-width="2.1"/>
<text transform="translate(762.1 820.5) scale(0.9615 1)" font-size="59.8" text-anchor="middle" font-weight="bold" fill="#000" font-family="Liberation Sans, Arial, Helvetica, sans-serif" >TCX</text>
<rect x="1649.2" y="755.4" width="164.5" height="90.4" fill="#fff" stroke="#000" stroke-width="2.1"/>
<text transform="translate(1731.45 820.6) scale(0.9615 1)" font-size="59.8" text-anchor="middle" font-weight="bold" fill="#000" font-family="Liberation Sans, Arial, Helvetica, sans-serif" >CER</text>
<rect x="615.2" y="1491.9" width="186.3" height="90.4" fill="#fff" stroke="#000" stroke-width="2.1"/>
<text transform="translate(708.35 1557.1) scale(0.9615 1)" font-size="59.8" text-anchor="middle" font-weight="bold" fill="#000" font-family="Liberation Sans, Arial, Helvetica, sans-serif" >-logP</text>
<rect x="1574.5" y="1491.9" width="105.3" height="90.4" fill="#fff" stroke="#000" stroke-width="2.1"/>
<text transform="translate(1627.15 1557.1) scale(0.9615 1)" font-size="59.8" text-anchor="middle" font-weight="bold" fill="#000" font-family="Liberation Sans, Arial, Helvetica, sans-serif" >R<tspan font-size="39" dy="-17.2">2</tspan></text>
</svg>
</body></html>
